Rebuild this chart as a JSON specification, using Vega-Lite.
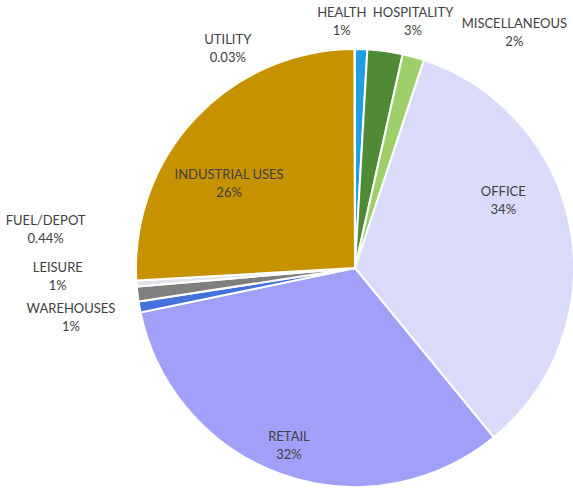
{
  "$schema": "https://vega.github.io/schema/vega-lite/v6.json",
  "width": 438,
  "height": 438,
  "autosize": "none",
  "padding": {"left": 136, "top": 49, "right": 0, "bottom": 9},
  "background": "white",
  "view": {"stroke": null},
  "config": {"text": {"font": "Lato", "fontSize": 13, "fill": "#404040", "lineBreak": "\n", "lineHeight": 18, "align": "center", "baseline": "middle"}},
  "data": {
    "values": [
      {"k": 1, "name": "HEALTH", "share": 0.9, "label": "HEALTH\n1%"},
      {"k": 2, "name": "HOSPITALITY", "share": 2.6, "label": "HOSPITALITY\n3%"},
      {"k": 3, "name": "MISCELLANEOUS", "share": 1.6, "label": "MISCELLANEOUS\n2%"},
      {"k": 4, "name": "OFFICE", "share": 34.0, "label": "OFFICE\n34%"},
      {"k": 5, "name": "RETAIL", "share": 32.7, "label": "RETAIL\n32%"},
      {"k": 6, "name": "WAREHOUSES", "share": 0.8, "label": "WAREHOUSES\n1%"},
      {"k": 7, "name": "LEISURE", "share": 1.1, "label": "LEISURE\n1%"},
      {"k": 8, "name": "FUEL/DEPOT", "share": 0.44, "label": "FUEL/DEPOT\n0.44%"},
      {"k": 9, "name": "INDUSTRIAL USES", "share": 25.9, "label": "INDUSTRIAL USES\n26%"},
      {"k": 10, "name": "UTILITY", "share": 0.03, "label": "UTILITY\n0.03%"}
    ]
  },
  "encoding": {
    "theta": {"field": "share", "type": "quantitative", "stack": true},
    "order": {"field": "k", "type": "quantitative"},
    "detail": {"field": "name", "type": "nominal"}
  },
  "layer": [
    {
      "mark": {"type": "arc", "stroke": "white", "strokeWidth": 2},
      "encoding": {
        "color": {
          "field": "name", "type": "nominal", "legend": null,
          "scale": {
            "domain": ["HEALTH", "HOSPITALITY", "MISCELLANEOUS", "OFFICE", "RETAIL", "WAREHOUSES", "LEISURE", "FUEL/DEPOT", "INDUSTRIAL USES", "UTILITY"],
            "range": ["#1f9fe2", "#4f8a37", "#9dd06a", "#dadafa", "#a0a0f8", "#4472dc", "#7f7f7f", "#e2e2ea", "#c69200", "#808000"]
          }
        }
      }
    },
    {"mark": {"type": "text", "radius": 240, "dx": -20, "dy": -15},
     "encoding": {"text": {"condition": {"test": "datum.k === 1", "field": "label"}, "value": ""}}},
    {"mark": {"type": "text", "radius": 240, "dx": 25, "dy": -17},
     "encoding": {"text": {"condition": {"test": "datum.k === 2", "field": "label"}, "value": ""}}},
    {"mark": {"type": "text", "radius": 245, "dx": 94, "dy": -8},
     "encoding": {"text": {"condition": {"test": "datum.k === 3", "field": "label"}, "value": ""}}},
    {"mark": {"type": "text", "radius": 160, "dx": -9, "dy": -47},
     "encoding": {"text": {"condition": {"test": "datum.k === 4", "field": "label"}, "value": ""}}},
    {"mark": {"type": "text", "radius": 180, "dx": -6, "dy": -1},
     "encoding": {"text": {"condition": {"test": "datum.k === 5", "field": "label"}, "value": ""}}},
    {"mark": {"type": "text", "radius": 250, "dx": -38, "dy": -4},
     "encoding": {"text": {"condition": {"test": "datum.k === 6", "field": "label"}, "value": ""}}},
    {"mark": {"type": "text", "radius": 250, "dx": -49, "dy": -30},
     "encoding": {"text": {"condition": {"test": "datum.k === 7", "field": "label"}, "value": ""}}},
    {"mark": {"type": "text", "radius": 250, "dx": -60, "dy": -65},
     "encoding": {"text": {"condition": {"test": "datum.k === 8", "field": "label"}, "value": ""}}},
    {"mark": {"type": "text", "radius": 140, "dx": -24, "dy": 3},
     "encoding": {"text": {"condition": {"test": "datum.k === 9", "field": "label"}, "value": ""}}},
    {"mark": {"type": "text", "radius": 230, "dx": -127, "dy": 2},
     "encoding": {"text": {"condition": {"test": "datum.k === 10", "field": "label"}, "value": ""}}}
  ]
}
